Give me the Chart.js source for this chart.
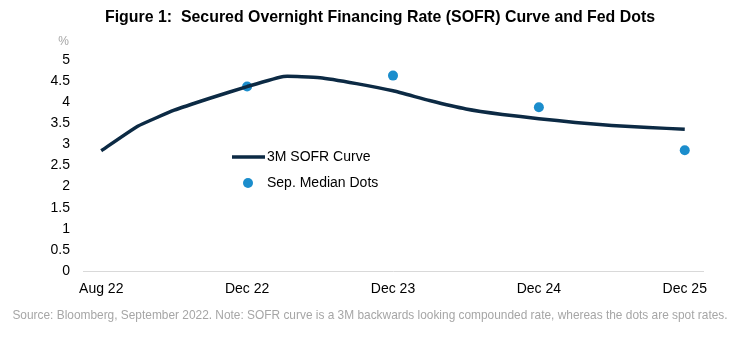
<!DOCTYPE html>
<html>
<head>
<meta charset="utf-8">
<script src="https://cdn.jsdelivr.net/npm/chart.js@4"></script>
<style>
  html, body { margin: 0; padding: 0; background: #fff; }
  #wrap { width: 744px; height: 341px; }
</style>
</head>
<body>
<div id="wrap"><canvas id="myChart" width="744" height="341"></canvas></div>
<script>
// data
const categories = ["Aug 22", "Sep 22", "Oct 22", "Nov 22", "Dec 22",
  "Mar 23", "Jun 23", "Sep 23", "Dec 23",
  "Mar 24", "Jun 24", "Sep 24", "Dec 24",
  "Mar 25", "Jun 25", "Sep 25", "Dec 25"];
const sofrCurve = [2.85, 3.43, 3.81, 4.1, 4.37, 4.61, 4.58, 4.44, 4.27,
  4.04, 3.84, 3.71, 3.61, 3.52, 3.45, 3.40, 3.36];
const medianDots = [null, null, null, null, 4.37, null, null, null, 4.63,
  null, null, null, 3.88, null, null, null, 2.86];
const shownLabels = ["Aug 22", "Dec 22", "Dec 23", "Dec 24", "Dec 25"];

const FONT = "'Liberation Sans', Arial, sans-serif";

// title, % label, source note and the in-plot legend
const decor = {
  id: "decor",
  afterDraw(chart) {
    const c = chart.ctx;
    c.save();
    c.textBaseline = "middle";
    c.fillStyle = "#000";
    c.font = "bold 15.9px " + FONT;
    c.textAlign = "center";
    c.fillText("Figure 1:  Secured Overnight Financing Rate (SOFR) Curve and Fed Dots", 380, 18);

    c.fillStyle = "#a6a6a6";
    c.font = "12px " + FONT;
    c.textAlign = "right";
    c.fillText("%", 69, 42);

    c.font = "11.9px " + FONT;
    c.textAlign = "center";
    c.fillText("Source: Bloomberg, September 2022. Note: SOFR curve is a 3M backwards looking compounded rate, whereas the dots are spot rates.", 370, 316);

    // legend
    const lx = 232, ly = 157;
    const ds = chart.data.datasets;
    c.strokeStyle = ds[0].borderColor;
    c.lineWidth = ds[0].borderWidth;
    c.beginPath();
    c.moveTo(lx, ly);
    c.lineTo(lx + 33, ly);
    c.stroke();
    c.fillStyle = ds[1].backgroundColor;
    c.beginPath();
    c.arc(lx + 16, ly + 26, 5, 0, Math.PI * 2);
    c.fill();
    c.fillStyle = "#000";
    c.font = "14px " + FONT;
    c.textAlign = "left";
    c.fillText(ds[0].label, lx + 35, ly);
    c.fillText(ds[1].label, lx + 35, ly + 26);
    c.restore();
  }
};

const ctx = document.getElementById("myChart").getContext("2d");

const myChart = new Chart(ctx, {
  type: "line",
  data: {
    labels: categories,
    datasets: [
      {
        label: "3M SOFR Curve",
        data: sofrCurve,
        borderColor: "#0c2a44",
        backgroundColor: "#0c2a44",
        borderWidth: 3.5,
        pointRadius: 0,
        tension: 0.12,
      },
      {
        label: "Sep. Median Dots",
        data: medianDots,
        showLine: false,
        borderColor: "#1b8dcc",
        backgroundColor: "#1b8dcc",
        pointRadius: 5,
        pointBorderWidth: 0,
      },
    ],
  },
  options: {
    responsive: false,
    animation: false,
    layout: { padding: { top: 60, right: 41, left: 0, bottom: 0 } },
    plugins: {
      legend: { display: false },
      tooltip: { enabled: false },
    },
    scales: {
      x: {
        offset: true,
        grid: { display: false, drawTicks: false },
        border: { display: true, color: "#d9d9d9", width: 1 },
        ticks: {
          autoSkip: false,
          maxRotation: 0,
          padding: 10,
          color: "#000",
          font: { family: FONT, size: 14 },
          callback: function (v, i) {
            const lab = categories[i];
            return i % 4 === 0 && shownLabels.includes(lab) ? lab : "";
          },
        },
        afterFit: (s) => { s.height = 70; },
      },
      y: {
        min: 0,
        max: 5,
        grid: { display: false, drawTicks: false },
        border: { display: false },
        ticks: {
          stepSize: 0.5,
          padding: 13,
          color: "#000",
          font: { family: FONT, size: 14 },
          callback: (v) => String(Number(v.toFixed(1))),
        },
        afterFit: (s) => { s.width = 83; },
      },
    },
  },
  plugins: [decor],
});
</script>
</body>
</html>
